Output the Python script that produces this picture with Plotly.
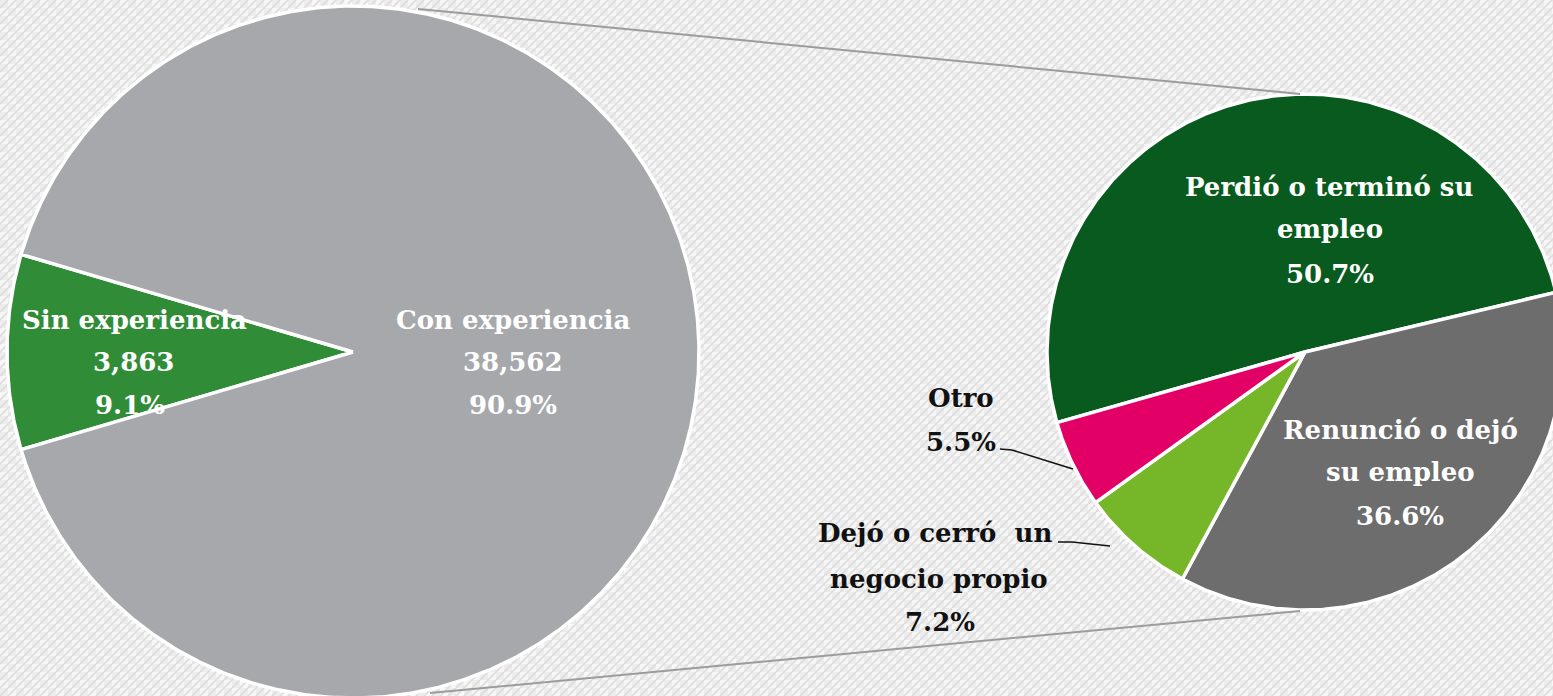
import base64
import numpy as np
import plotly.graph_objects as go

# ---- data ----
main_labels = ["Sin experiencia", "Con experiencia"]
main_values = [3863, 38562]
main_pct = ["9.1%", "90.9%"]
main_counts = ["3,863", "38,562"]

sub_labels = ["Perdió o terminó su empleo", "Renunció o dejó su empleo",
              "Dejó o cerró  un negocio propio", "Otro"]
sub_pct_values = [50.7, 36.6, 7.2, 5.5]

# ---- style ----
W, H = 1553, 696
main_colors = ["#318c37", "#a7a8ac"]
sub_colors = ["#085a1e", "#6d6d6d", "#76b72a", "#e20066"]
FONT = "DejaVu Serif"

L_CX, L_CY, L_R = 353, 352, 346
R_CX, R_CY, R_R = 1305, 352, 258


def wedges(values, cx, cy, r, start_deg):
    vals = np.array(values, dtype=float)
    fr = vals / vals.sum()
    out = []
    a0 = start_deg
    for f in fr:
        a1 = a0 - f * 360.0  # clockwise
        n = max(8, int(abs(a1 - a0) * 2))
        ang = np.radians(np.linspace(a0, a1, n))
        xs = np.concatenate([[cx], cx + r * np.cos(ang), [cx]])
        ys = np.concatenate([[cy], cy - r * np.sin(ang), [cy]])
        out.append((xs, ys, a0, a1))
        a0 = a1
    return out


fig = go.Figure()

left_start = 180 + 0.5 * main_values[0] / sum(main_values) * 360
for (xs, ys, a0, a1), col, lab in zip(wedges(main_values, L_CX, L_CY, L_R, left_start),
                                      main_colors, main_labels):
    fig.add_trace(go.Scatter(x=xs, y=ys, fill="toself", fillcolor=col, mode="lines",
                             line=dict(color="white", width=3.5), name=lab,
                             hoverinfo="name", showlegend=False))

right_start = 195.9
for (xs, ys, a0, a1), col, lab in zip(wedges(sub_pct_values, R_CX, R_CY, R_R, right_start),
                                      sub_colors, sub_labels):
    fig.add_trace(go.Scatter(x=xs, y=ys, fill="toself", fillcolor=col, mode="lines",
                             line=dict(color="white", width=3.5), name=lab,
                             hoverinfo="name", showlegend=False))

# connector lines between the pies
conn = dict(color="#9c9c9c", width=2)
fig.add_shape(type="line", x0=418, y0=9, x1=1300, y1=94, line=conn, layer="above")
fig.add_shape(type="line", x0=430, y0=693, x1=1300, y1=611, line=conn, layer="above")

# leader lines
lead = dict(color="#111111", width=1.5)
fig.add_shape(type="path", path="M 1000 449 L 1012 450 L 1073 469", line=lead)
fig.add_shape(type="path", path="M 1058 542 L 1072 542 L 1110 546", line=lead)


def txt(x, y, s, color="white", size=26):
    fig.add_annotation(x=x, y=y, text=s, showarrow=False, xanchor="center",
                       yanchor="middle", font=dict(family=FONT, size=size, color=color))


# labels
txt(134, 320, "<b>Sin experiencia</b>")
txt(133, 362, "<b>" + main_counts[0] + "</b>")
txt(130, 405, "<b>" + main_pct[0] + "</b>")
txt(513, 320, "<b>Con experiencia</b>")
txt(513, 362, "<b>" + main_counts[1] + "</b>")
txt(513, 405, "<b>" + main_pct[1] + "</b>")

txt(1329, 187, "<b>Perdió o terminó su</b>")
txt(1330, 229, "<b>empleo</b>")
txt(1330, 274, "<b>%.1f%%</b>" % sub_pct_values[0])
txt(1400, 430, "<b>Renunció o dejó</b>")
txt(1400, 472, "<b>su empleo</b>")
txt(1400, 516, "<b>%.1f%%</b>" % sub_pct_values[1])
txt(961, 398, "<b>Otro</b>", color="#111111")
txt(961, 442, "<b>%.1f%%</b>" % sub_pct_values[3], color="#111111")
txt(935, 533, "<b>Dejó o cerró  un</b>", color="#111111")
txt(939, 579, "<b>negocio propio</b>", color="#111111")
txt(940, 622, "<b>%.1f%%</b>" % sub_pct_values[2], color="#111111")

# hatched background pattern
svg = (
    '<svg xmlns="http://www.w3.org/2000/svg" width="%d" height="%d">'
    '<defs><pattern id="p" width="16" height="16" patternUnits="userSpaceOnUse">'
    '<rect width="16" height="16" fill="#f7f7f7"/>'
    '<rect width="8" height="8" fill="#ededed"/>'
    '<rect x="8" y="8" width="8" height="8" fill="#ededed"/>'
    '<path d="M-2 2 L2 -2 M0 8 L8 0 M0 16 L16 0 M8 16 L16 8 M14 18 L18 14" '
    'stroke="#dedede" stroke-width="1.8"/>'
    '</pattern></defs><rect width="100%%" height="100%%" fill="url(#p)"/></svg>'
) % (W, H)
src = "data:image/svg+xml;base64," + base64.b64encode(svg.encode()).decode()
fig.add_layout_image(dict(source=src, xref="paper", yref="paper", x=0, y=1,
                          sizex=1, sizey=1, sizing="stretch", layer="below"))

fig.update_layout(
    width=W, height=H, margin=dict(l=0, r=0, t=0, b=0),
    paper_bgcolor="#f0f0f0", plot_bgcolor="rgba(0,0,0,0)",
    xaxis=dict(range=[0, W], visible=False, fixedrange=True),
    yaxis=dict(range=[H, 0], visible=False, fixedrange=True),
    showlegend=False,
)

fig.write_html("out.html", config={"displayModeBar": False},
               post_script="document.body.style.margin='0';")
